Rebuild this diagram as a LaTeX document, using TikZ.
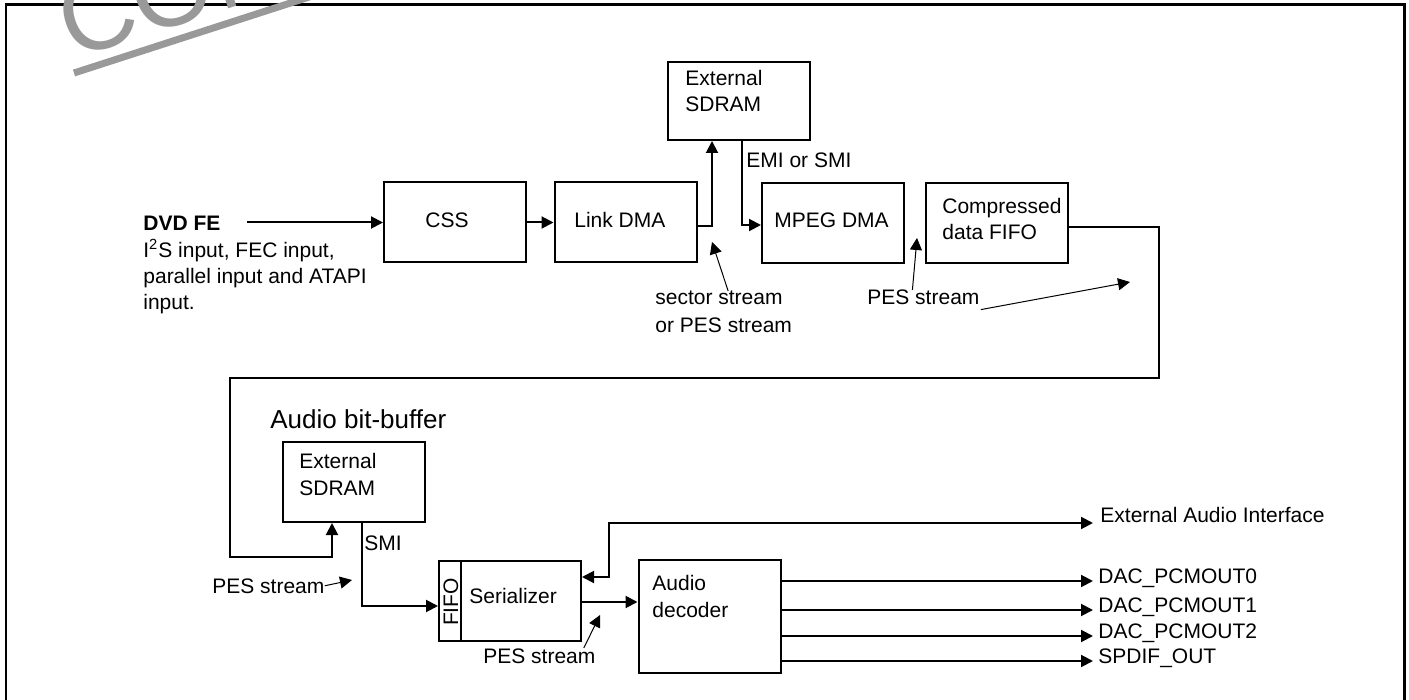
\documentclass[tikz,border=0pt]{standalone}
\usepackage{fontspec}
\setmainfont{Liberation Sans}
\usetikzlibrary{arrows.meta, calc}

\begin{document}
\begin{tikzpicture}[
  x=0.5pt, y=-0.5pt,
  >={Triangle[length=6pt, width=6pt]},
  blk/.style={draw, line width=1pt, inner sep=0pt,
    minimum width=71pt, minimum height=40pt},
  lbl/.style={font=\fontsize{10.5}{13.2}\selectfont, inner sep=0pt,
    align=left, anchor=base west},
  wire/.style={line width=1pt, ->},
  callout/.style={line width=0.5pt, ->},
]
\useasboundingbox (0,0) rectangle (1409,700);

% Frame
\draw[line width=1.25pt] (6,710) -- (6,4.5) -- (1404.5,4.5) -- (1404.5,710);

% Watermark
\begin{scope}
  \clip (0,0) rectangle (1409,700);
  \node[font=\fontsize{52}{52}\selectfont, text=black!40, rotate=18,
        anchor=base west, inner sep=0pt] (stamp) at (72,60) {CONFIDENTIAL};
  \draw[black!40, line width=3.5pt] (74,73) -- (340,-13);
\end{scope}

% =============================================
% Input and DMA chain
% =============================================
% (multi-line labels: base = last line)
\node[lbl] (dvdfe) at (143,310)
  {\textbf{DVD FE}\\I\textsuperscript{2}S input, FEC input,\\parallel input and ATAPI\\input.};
\coordinate (fe-out) at (247,222.5);

\node[blk] (css) at (455,222.5) {};
\node[lbl] (css-t) at (425,228) {CSS};

\node[blk] (link) at (625.5,222.5) {};
\node[lbl] (link-t) at (574,228) {Link DMA};

\node[blk, minimum height=39pt] (sdram1) at (739,101) {};
\node[lbl] (sdram1-t) at (685,112) {External\\SDRAM};

\node[blk] (mpeg) at (833,223) {};
\node[lbl] (mpeg-t) at (774,228) {MPEG DMA};

\node[blk] (cfifo) at (997,223) {};
\node[lbl] (cfifo-t) at (942,240) {Compressed\\data FIFO};

\node[lbl] (emi-t) at (746,168) {EMI or SMI};

\draw[wire] (fe-out) -- (css.west);
\draw[wire] (css.east) -- (link.west);

\coordinate (lnk-up) at (712,226);
\draw[wire] (link.east |- lnk-up) -- (lnk-up) -- (lnk-up |- sdram1.south);

\coordinate (emi) at (742,225);
\draw[wire] (emi |- sdram1.south) -- (emi) -- (mpeg.west |- emi);

% stream callouts
\node[lbl, font=\fontsize{10.5}{14}\selectfont] (sect) at (655,333)
  {sector stream\\or PES stream};
\coordinate (sect-tip) at (712,242);
\draw[callout] ([xshift=2.25pt]sect.north) -- (sect-tip);

\node[lbl] (pes1) at (867,305) {PES stream};
\coordinate (pes1-tip) at (917,238);
\coordinate (pes1-far) at (1130,282);
\draw[callout] ([xshift=-5.5pt]pes1.north) -- (pes1-tip);
\draw[callout] ([shift={(0.5pt,-2pt)}]pes1.south east) -- (pes1-far);

% =============================================
% Audio bit-buffer loop
% =============================================
\node[lbl, font=\fontsize{13}{15}\selectfont] (bitbuf) at (270,429) {Audio bit-buffer};

\node[blk] (sdram2) at (354,482) {};
\node[lbl] (sdram2-t) at (299,495) {External\\SDRAM};

\coordinate (loop-r) at (1159,378);
\coordinate (loop-l) at (230,557);
\coordinate (buf-in) at (332,557);
\draw[wire] (cfifo.east |- 0,227) -| (loop-r) -| (loop-l) -- (buf-in)
  -- (buf-in |- sdram2.south);

\node[lbl] (smi-t) at (364,550) {SMI};

\node[lbl] (pes2) at (212,593) {PES stream};
\coordinate (pes2-tip) at (352,580);
\draw[callout] (pes2.east) -- (pes2-tip);

% =============================================
% Serializer and decoder
% =============================================
\node[blk] (serial) at (510,601) {};
\draw[line width=1pt] ([xshift=11.5pt]serial.north west)
  -- ([xshift=11.5pt]serial.south west);
\node[font=\fontsize{10.5}{13.2}\selectfont, inner sep=0pt, rotate=90]
  (fifo) at (451,602) {FIFO};
\node[lbl] (serial-t) at (469,603) {Serializer};

\coordinate (smi) at (362,606);
\draw[wire] (smi |- sdram2.south) -- (smi) -- (serial.west |- smi);

\node[blk, minimum height=56.5pt] (audio) at (709.5,616.5) {};
\node[lbl] (audio-t) at (652,617) {Audio\\decoder};

\draw[wire] (serial.east |- 0,602) -- (audio.west |- 0,602);

\node[lbl] (pes3) at (483,663) {PES stream};
\coordinate (pes3-tip) at (600,615);
\draw[callout] ([xshift=-6pt]pes3.north east) -- (pes3-tip);

% external audio interface
\node[lbl, inner xsep=3.5pt] (extai) at (1093,522) {External Audio Interface};
\coordinate (ai-up) at (609,523);
\draw[line width=1pt, <->] (serial.east |- 0,577) -| (ai-up) -- (extai.west |- ai-up);

% outputs
\foreach \y/\t [count=\i] in {581/DAC\_PCMOUT0, 610/DAC\_PCMOUT1,
                             636/DAC\_PCMOUT2, 661/SPDIF\_OUT} {
  \node[lbl, inner xsep=2.5pt] (out\i) at (1093,\y+2) {\t};
  \draw[wire] (audio.east |- 0,\y) -- (out\i.west |- 0,\y);
}

\end{tikzpicture}
\end{document}
